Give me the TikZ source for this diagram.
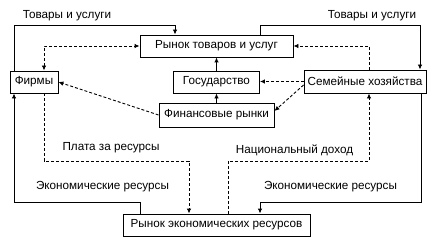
\documentclass[tikz,border=0pt]{standalone}
\usepackage{fontspec}
\setmainfont{Liberation Sans}
\usetikzlibrary{arrows.meta}
\begin{document}
\begin{tikzpicture}[
  x=1pt, y=-1pt,
  every node/.style={font=\fontsize{11.7}{13}\selectfont, inner sep=0pt},
  box/.style={draw, line width=0.9pt, fill=white},
  flow/.style={line width=0.9pt, -{Latex[length=5pt,width=4.5pt]}},
  dflow/.style={flow, dash pattern=on 3pt off 2pt}
]
\useasboundingbox (0,0) rectangle (439,246);
\node[box, minimum width=153, minimum height=22] (market) at (216.5,46) {Рынок товаров и услуг};
\node[box, minimum width=48, minimum height=22] (firms) at (34,82) {Фирмы};
\node[box, minimum width=86, minimum height=22] (gov) at (216.5,82) {Государство};
\node[box, minimum width=115, minimum height=24] (fin) at (216.5,115) {Финансовые рынки};
\node[box, minimum width=122, minimum height=23] (house) at (365,81.5) {Семейные хозяйства};
\node[box, minimum width=187, minimum height=22] (resm) at (216.5,225) {Рынок экономических ресурсов};
\node (goodsl) at (67,16) {Товары и услуги};
\node (goodsr) at (372,16) {Товары и услуги};
\node (pay) at (111,148) {Плата за ресурсы};
\node (resl) at (102.5,187) {Экономические ресурсы};
\node (income) at (294.5,150) {Национальный доход};
\node (resr) at (330.5,187) {Экономические ресурсы};
\coordinate (c1) at (14,25);
\coordinate (c2) at (175,25);
\coordinate (c3) at (260,25);
\coordinate (c4) at (420,25);
\coordinate (c5) at (44,46);
\coordinate (c6) at (369,46);
\coordinate (c7) at (14,202);
\coordinate (c8) at (140,202);
\coordinate (c9) at (44,161);
\coordinate (c10) at (189,161);
\coordinate (c11) at (421,202);
\coordinate (c12) at (260,202);
\coordinate (c13) at (228,161);
\coordinate (c14) at (369,161);
\draw[flow] (firms.north -| c1) |- (c2) -- (market.north -| c2);
\draw[flow] (market.north -| c3) |- (c4) -- (house.north -| c4);
\draw[dflow, {Latex[length=5pt,width=4.5pt]}-{Latex[length=5pt,width=4.5pt]}] (firms.north -| c5) |- (market.west);
\draw[dflow] (fin.west) -- (firms.east);
\draw[flow] (gov.north) -- (gov.north |- market.south);
\draw[flow] (fin.north) -- (fin.north |- gov.south);
\draw[dflow] (house.north -| c6) |- (market.east);
\draw[dflow] (house.west) -- (house.west -| gov.east);
\draw[dflow] ([yshift=-3.5]house.west) -- ([yshift=4]fin.east);
\draw[flow] (resm.north -| c8) |- (c7) -- (firms.south -| c7);
\draw[dflow] (firms.south -| c9) |- (c10) -- (resm.north -| c10);
\draw[flow] (house.south -| c11) |- (c12) -- (resm.north -| c12);
\draw[dflow] (resm.north -| c13) |- (c14) -- (house.south -| c14);
\end{tikzpicture}
\end{document}
